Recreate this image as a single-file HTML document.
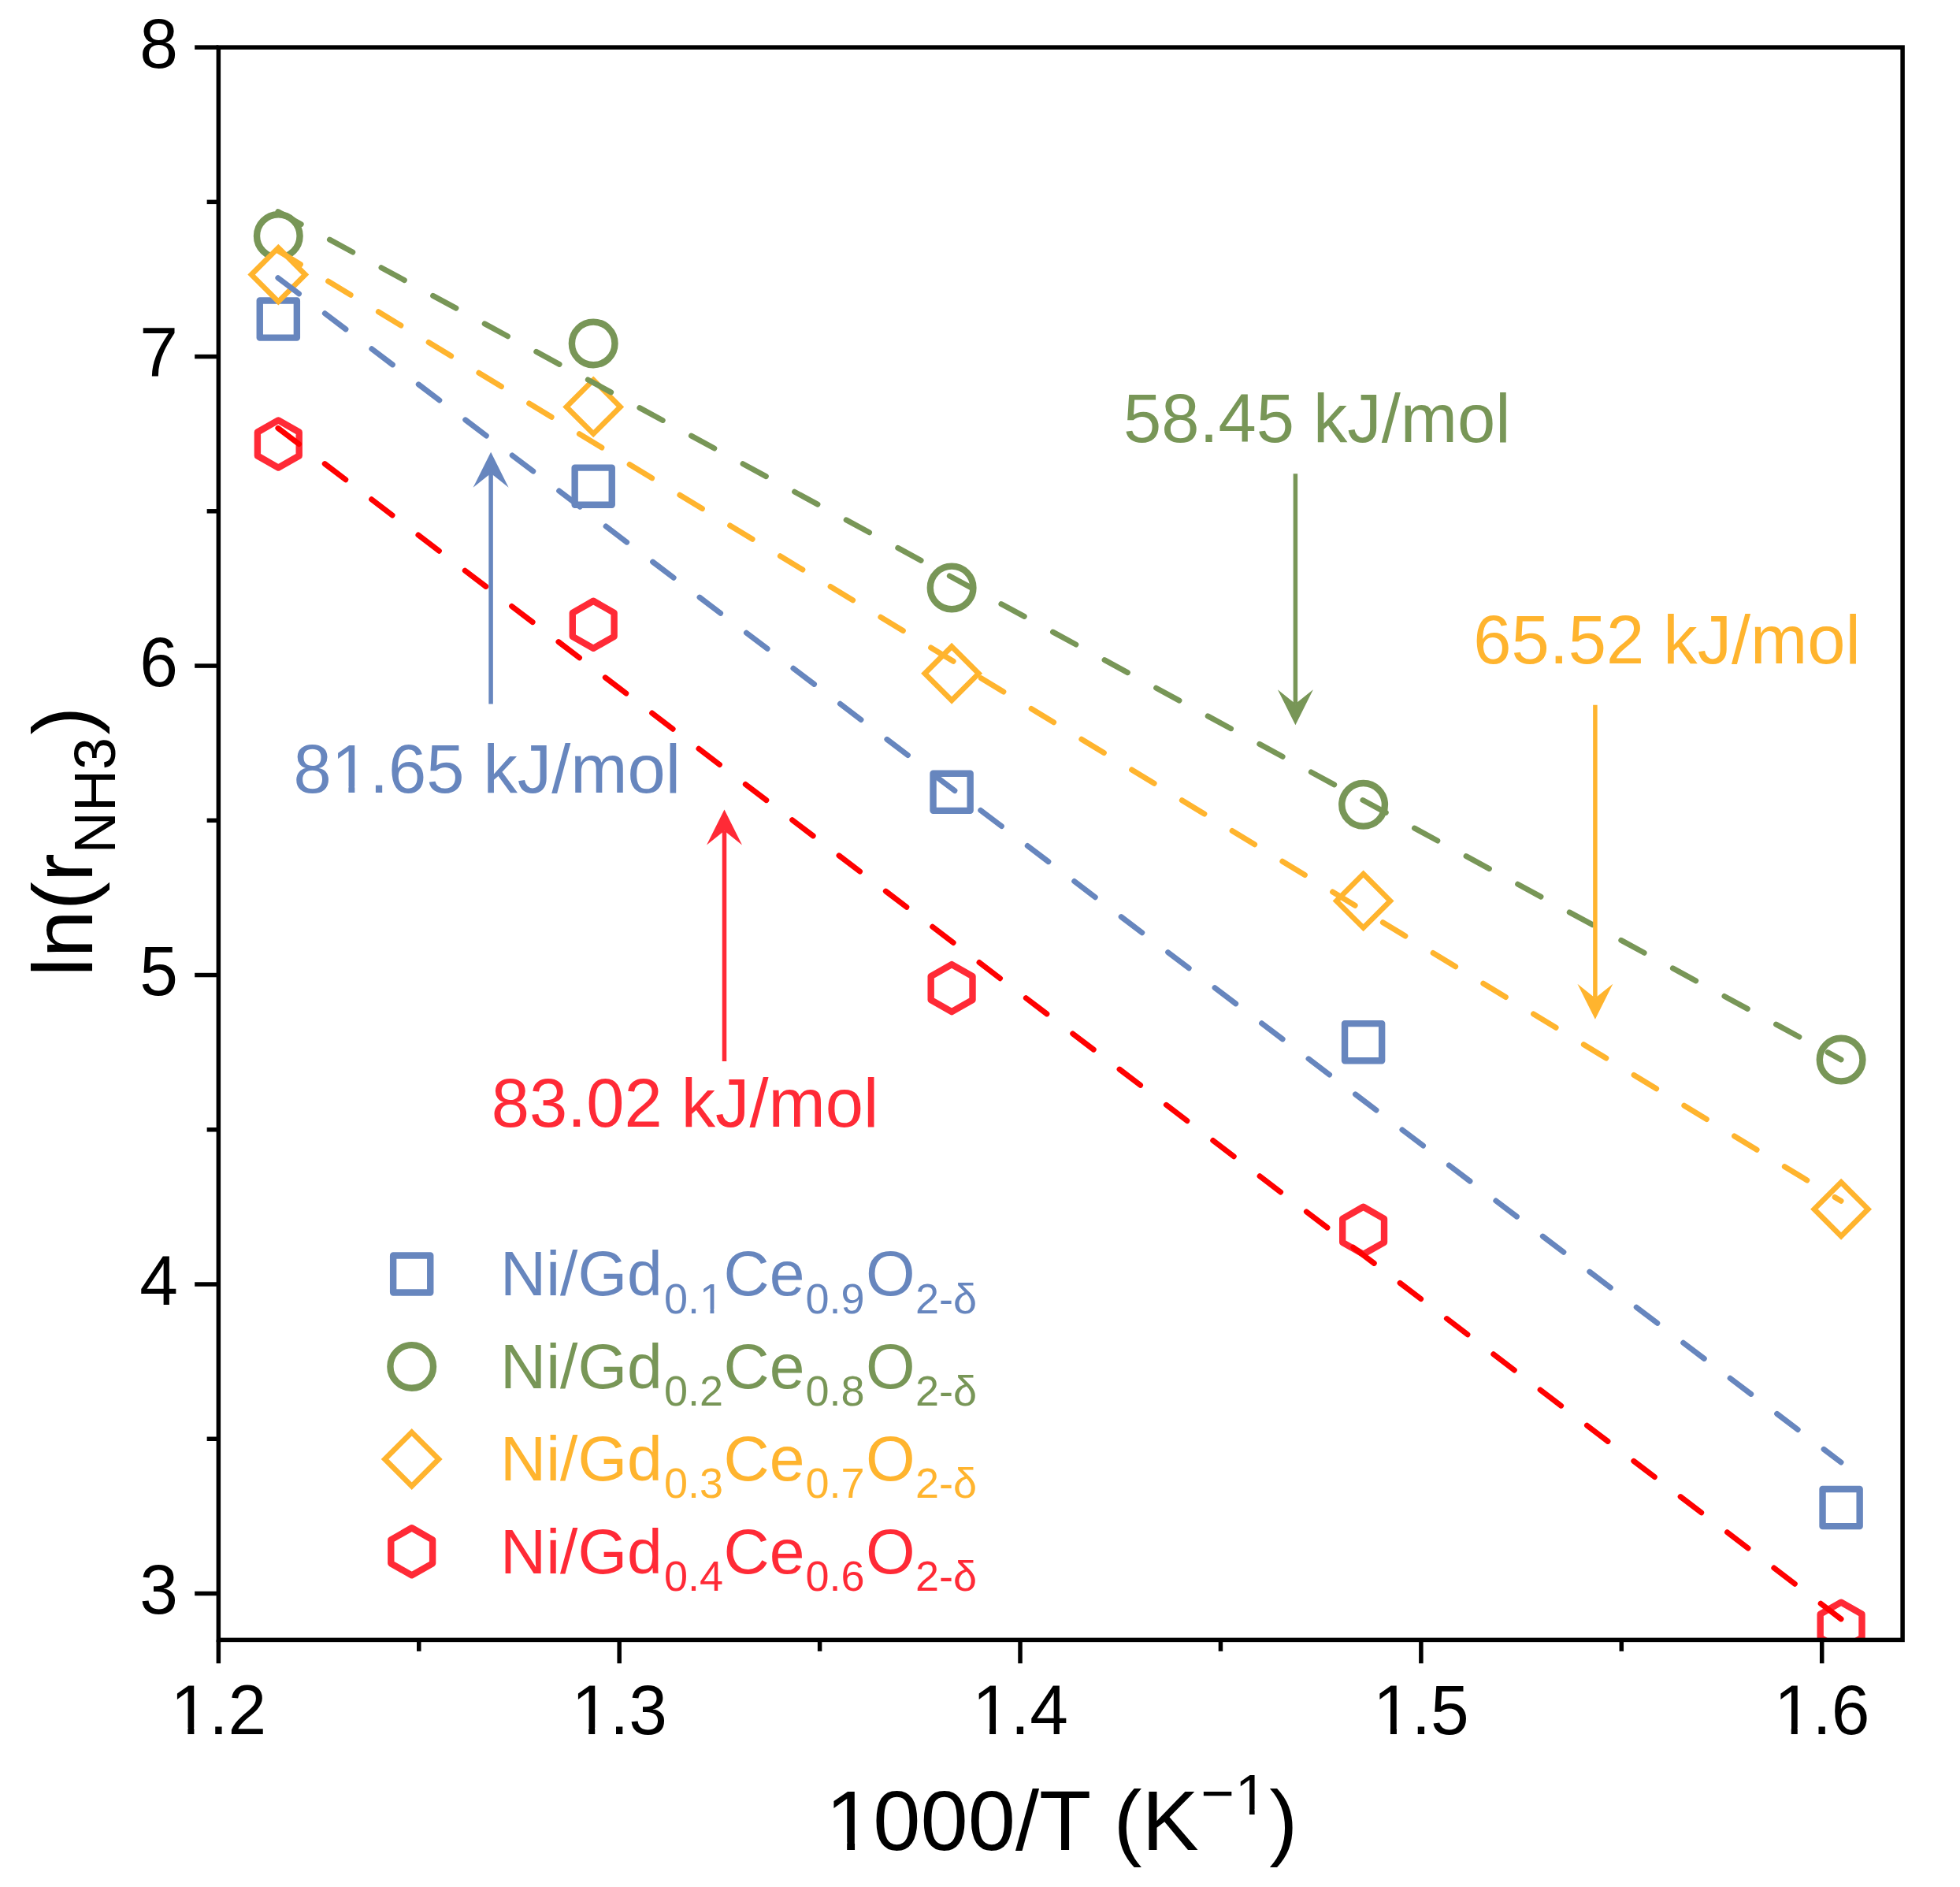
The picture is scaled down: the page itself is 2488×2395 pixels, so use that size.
<!DOCTYPE html>
<html><head><meta charset="utf-8"><title>Arrhenius plot</title>
<style>html,body{margin:0;padding:0;background:#fff}svg{display:block}</style></head>
<body>
<svg width="2488" height="2395" viewBox="0 0 2488 2395" font-family="Liberation Sans, Arial, Helvetica, sans-serif">
<rect width="2488" height="2395" fill="#fff"/>
<defs><clipPath id="plot"><rect x="277.35" y="60.1" width="2137.75" height="2021.3000000000002"/></clipPath></defs>
<g clip-path="url(#plot)">
<rect x="329.75" y="381.55" width="47.1" height="47.1" fill="#fff" stroke="#6786BE" stroke-width="8.4" stroke-linejoin="round"/>
<rect x="729.65" y="593.65" width="47.1" height="47.1" fill="#fff" stroke="#6786BE" stroke-width="8.4" stroke-linejoin="round"/>
<rect x="1184.55" y="981.75" width="47.1" height="47.1" fill="#fff" stroke="#6786BE" stroke-width="8.4" stroke-linejoin="round"/>
<rect x="1707.05" y="1299.15" width="47.1" height="47.1" fill="#fff" stroke="#6786BE" stroke-width="8.4" stroke-linejoin="round"/>
<rect x="2313.55" y="1890.05" width="47.1" height="47.1" fill="#fff" stroke="#6786BE" stroke-width="8.4" stroke-linejoin="round"/>
<circle cx="353.30" cy="299.50" r="27.3" fill="#fff" stroke="#789657" stroke-width="8.4"/>
<circle cx="753.20" cy="435.90" r="27.3" fill="#fff" stroke="#789657" stroke-width="8.4"/>
<circle cx="1208.10" cy="745.90" r="27.3" fill="#fff" stroke="#789657" stroke-width="8.4"/>
<circle cx="1730.60" cy="1021.30" r="27.3" fill="#fff" stroke="#789657" stroke-width="8.4"/>
<circle cx="2337.10" cy="1345.05" r="27.3" fill="#fff" stroke="#789657" stroke-width="8.4"/>
<polygon points="353.30,314.40 387.50,348.60 353.30,382.80 319.10,348.60" fill="#fff" stroke="#FFB42E" stroke-width="6.75" stroke-linejoin="miter"/>
<polygon points="753.20,482.20 787.40,516.40 753.20,550.60 719.00,516.40" fill="#fff" stroke="#FFB42E" stroke-width="6.75" stroke-linejoin="miter"/>
<polygon points="1208.10,820.60 1242.30,854.80 1208.10,889.00 1173.90,854.80" fill="#fff" stroke="#FFB42E" stroke-width="6.75" stroke-linejoin="miter"/>
<polygon points="1730.60,1109.20 1764.80,1143.40 1730.60,1177.60 1696.40,1143.40" fill="#fff" stroke="#FFB42E" stroke-width="6.75" stroke-linejoin="miter"/>
<polygon points="2337.10,1500.50 2371.30,1534.70 2337.10,1568.90 2302.90,1534.70" fill="#fff" stroke="#FFB42E" stroke-width="6.75" stroke-linejoin="miter"/>
<polygon points="353.30,533.46 326.89,548.48 326.89,578.52 353.30,593.54 379.71,578.52 379.71,548.48" fill="#fff" stroke="#FF2A36" stroke-width="8.4" stroke-linejoin="round"/>
<polygon points="753.20,762.76 726.79,777.78 726.79,807.82 753.20,822.84 779.61,807.82 779.61,777.78" fill="#fff" stroke="#FF2A36" stroke-width="8.4" stroke-linejoin="round"/>
<polygon points="1208.10,1224.06 1181.69,1239.08 1181.69,1269.12 1208.10,1284.14 1234.51,1269.12 1234.51,1239.08" fill="#fff" stroke="#FF2A36" stroke-width="8.4" stroke-linejoin="round"/>
<polygon points="1730.60,1531.76 1704.19,1546.78 1704.19,1576.82 1730.60,1591.84 1757.01,1576.82 1757.01,1546.78" fill="#fff" stroke="#FF2A36" stroke-width="8.4" stroke-linejoin="round"/>
<polygon points="2337.10,2033.66 2310.69,2048.68 2310.69,2078.72 2337.10,2093.74 2363.51,2078.72 2363.51,2048.68" fill="#fff" stroke="#FF2A36" stroke-width="8.4" stroke-linejoin="round"/>
<line x1="352.9" y1="352.7" x2="2337" y2="1856.0" stroke="#6786BE" stroke-width="7.0" stroke-linecap="round" stroke-dasharray="33.3 41.3"/>
<line x1="352.9" y1="268.6" x2="2337" y2="1344.8" stroke="#789657" stroke-width="7.0" stroke-linecap="round" stroke-dasharray="33.3 41.3"/>
<line x1="352.9" y1="318.3" x2="2337" y2="1524.2" stroke="#FFB42E" stroke-width="7.0" stroke-linecap="round" stroke-dasharray="33.3 41.3"/>
<line x1="352.9" y1="543.4" x2="2337" y2="2054.9" stroke="#FF0000" stroke-width="7.0" stroke-linecap="round" stroke-dasharray="33.3 41.3"/>
</g>
<g stroke="#000" stroke-width="5.5" fill="none" stroke-linecap="butt">
<rect x="277.35" y="60.1" width="2137.75" height="2021.3000000000002"/>
<line x1="247.15000000000003" y1="60.10" x2="277.35" y2="60.10"/>
<line x1="247.15000000000003" y1="452.58" x2="277.35" y2="452.58"/>
<line x1="247.15000000000003" y1="845.06" x2="277.35" y2="845.06"/>
<line x1="247.15000000000003" y1="1237.54" x2="277.35" y2="1237.54"/>
<line x1="247.15000000000003" y1="1630.02" x2="277.35" y2="1630.02"/>
<line x1="247.15000000000003" y1="2022.50" x2="277.35" y2="2022.50"/>
<line x1="262.65000000000003" y1="256.34" x2="277.35" y2="256.34"/>
<line x1="262.65000000000003" y1="648.82" x2="277.35" y2="648.82"/>
<line x1="262.65000000000003" y1="1041.30" x2="277.35" y2="1041.30"/>
<line x1="262.65000000000003" y1="1433.78" x2="277.35" y2="1433.78"/>
<line x1="262.65000000000003" y1="1826.26" x2="277.35" y2="1826.26"/>
<line x1="277.35" y1="2081.4" x2="277.35" y2="2111.2000000000003"/>
<line x1="786.19" y1="2081.4" x2="786.19" y2="2111.2000000000003"/>
<line x1="1295.03" y1="2081.4" x2="1295.03" y2="2111.2000000000003"/>
<line x1="1803.87" y1="2081.4" x2="1803.87" y2="2111.2000000000003"/>
<line x1="2312.71" y1="2081.4" x2="2312.71" y2="2111.2000000000003"/>
<line x1="531.77" y1="2081.4" x2="531.77" y2="2095.8"/>
<line x1="1040.61" y1="2081.4" x2="1040.61" y2="2095.8"/>
<line x1="1549.45" y1="2081.4" x2="1549.45" y2="2095.8"/>
<line x1="2058.29" y1="2081.4" x2="2058.29" y2="2095.8"/>
</g>
<g font-size="87.5" fill="#000">
<text transform="translate(225.9 85.70) scale(1 1.022)" text-anchor="end">8</text>
<text transform="translate(225.9 478.18) scale(1 1.022)" text-anchor="end">7</text>
<text transform="translate(225.9 870.66) scale(1 1.022)" text-anchor="end">6</text>
<text transform="translate(225.9 1263.14) scale(1 1.022)" text-anchor="end">5</text>
<text transform="translate(225.9 1655.62) scale(1 1.022)" text-anchor="end">4</text>
<text transform="translate(225.9 2048.10) scale(1 1.022)" text-anchor="end">3</text>
<text transform="translate(277.35 2200.7) scale(1 1.022)" text-anchor="middle">1.2</text>
<text transform="translate(786.19 2200.7) scale(1 1.022)" text-anchor="middle">1.3</text>
<text transform="translate(1295.03 2200.7) scale(1 1.022)" text-anchor="middle">1.4</text>
<text transform="translate(1803.87 2200.7) scale(1 1.022)" text-anchor="middle">1.5</text>
<text transform="translate(2312.71 2200.7) scale(1 1.022)" text-anchor="middle">1.6</text>
</g>
<text x="1048.1" y="2347.5" font-size="108.3" fill="#000">1000/T (K<tspan font-size="73" dx="2.5" dy="-47">−</tspan><tspan font-size="73" x="1567.7" dy="2.5">1</tspan><tspan dx="3.0" dy="44.5">)</tspan></text>
<text transform="translate(116.8 1239.6) rotate(-90)" font-size="108.3" fill="#000">ln(r<tspan font-size="73.5" dy="29.3">NH3</tspan><tspan dx="3.3" dy="-29.3">)</tspan></text>
<line x1="623.1" y1="893.6" x2="623.1" y2="600.7" stroke="#6786BE" stroke-width="5.5"/><polygon points="623.1,573.7 645.6,618.7 623.1,600.7 600.6,618.7" fill="#6786BE"/>
<line x1="1644.4" y1="601.2" x2="1644.4" y2="893.2" stroke="#789657" stroke-width="5.5"/><polygon points="1644.4,920.2 1666.9,875.2 1644.4,893.2 1621.9,875.2" fill="#789657"/>
<line x1="2024.9" y1="894.8" x2="2024.9" y2="1266.8" stroke="#FFB42E" stroke-width="5.5"/><polygon points="2024.9,1293.8 2047.4,1248.8 2024.9,1266.8 2002.4,1248.8" fill="#FFB42E"/>
<line x1="919.5" y1="1347.1" x2="919.5" y2="1054.4" stroke="#FF2A36" stroke-width="5.5"/><polygon points="919.5,1027.4 942.0,1072.4 919.5,1054.4 897.0,1072.4" fill="#FF2A36"/>
<g font-size="86.7">
<text x="372.5" y="1006.1" fill="#6786BE">81.65 kJ/mol</text>
<text x="1426" y="561" fill="#789657">58.45 kJ/mol</text>
<text x="1870.3" y="842.4" fill="#FFB42E">65.52 kJ/mol</text>
<text x="623.7" y="1429.9" fill="#FF2A36">83.02 kJ/mol</text>
</g>
<rect x="499.15" y="1593.45" width="47.1" height="47.1" fill="#fff" stroke="#6786BE" stroke-width="8.4" stroke-linejoin="round"/>
<text font-size="80.5" fill="#6786BE" y="1644.40"><tspan x="635">Ni/Gd</tspan><tspan x="842.9" y="1666.50" font-size="54">0.1</tspan><tspan x="918.6" y="1644.40">Ce</tspan><tspan x="1022.5" y="1666.50" font-size="54">0.9</tspan><tspan x="1099" y="1644.40">O</tspan><tspan x="1161.9" y="1666.50" font-size="54">2-δ</tspan></text>
<circle cx="522.70" cy="1734.40" r="27.3" fill="#fff" stroke="#789657" stroke-width="8.4"/>
<text font-size="80.5" fill="#789657" y="1761.87"><tspan x="635">Ni/Gd</tspan><tspan x="842.9" y="1783.97" font-size="54">0.2</tspan><tspan x="918.6" y="1761.87">Ce</tspan><tspan x="1022.5" y="1783.97" font-size="54">0.8</tspan><tspan x="1099" y="1761.87">O</tspan><tspan x="1161.9" y="1783.97" font-size="54">2-δ</tspan></text>
<polygon points="522.70,1817.80 556.90,1852.00 522.70,1886.20 488.50,1852.00" fill="#fff" stroke="#FFB42E" stroke-width="6.75" stroke-linejoin="miter"/>
<text font-size="80.5" fill="#FFB42E" y="1879.34"><tspan x="635">Ni/Gd</tspan><tspan x="842.9" y="1901.44" font-size="54">0.3</tspan><tspan x="918.6" y="1879.34">Ce</tspan><tspan x="1022.5" y="1901.44" font-size="54">0.7</tspan><tspan x="1099" y="1879.34">O</tspan><tspan x="1161.9" y="1901.44" font-size="54">2-δ</tspan></text>
<polygon points="522.70,1939.26 496.29,1954.28 496.29,1984.32 522.70,1999.34 549.11,1984.32 549.11,1954.28" fill="#fff" stroke="#FF2A36" stroke-width="8.4" stroke-linejoin="round"/>
<text font-size="80.5" fill="#FF2A36" y="1996.81"><tspan x="635">Ni/Gd</tspan><tspan x="842.9" y="2018.91" font-size="54">0.4</tspan><tspan x="918.6" y="1996.81">Ce</tspan><tspan x="1022.5" y="2018.91" font-size="54">0.6</tspan><tspan x="1099" y="1996.81">O</tspan><tspan x="1161.9" y="2018.91" font-size="54">2-δ</tspan></text>
<rect x="218.24" y="2192.80" width="20.17" height="8.70" fill="#fff"/><rect x="246.40" y="2192.80" width="18.20" height="8.70" fill="#fff"/>
<rect x="727.08" y="2192.80" width="20.17" height="8.70" fill="#fff"/><rect x="755.24" y="2192.80" width="18.20" height="8.70" fill="#fff"/>
<rect x="1235.92" y="2192.80" width="20.17" height="8.70" fill="#fff"/><rect x="1264.08" y="2192.80" width="18.20" height="8.70" fill="#fff"/>
<rect x="1744.76" y="2192.80" width="20.17" height="8.70" fill="#fff"/><rect x="1772.92" y="2192.80" width="18.20" height="8.70" fill="#fff"/>
<rect x="2253.60" y="2192.80" width="20.17" height="8.70" fill="#fff"/><rect x="2281.76" y="2192.80" width="18.20" height="8.70" fill="#fff"/>
<rect x="1050.22" y="2337.72" width="24.96" height="10.58" fill="#fff"/><rect x="1085.06" y="2337.72" width="22.53" height="10.58" fill="#fff"/>
<rect x="1569.13" y="2296.41" width="16.82" height="7.39" fill="#fff"/><rect x="1592.62" y="2296.41" width="15.18" height="7.39" fill="#fff"/>
<rect x="422.41" y="998.27" width="19.98" height="8.63" fill="#fff"/><rect x="450.31" y="998.27" width="18.03" height="8.63" fill="#fff"/>
<rect x="888.99" y="1661.62" width="12.45" height="5.68" fill="#fff"/><rect x="906.37" y="1661.62" width="11.23" height="5.68" fill="#fff"/>
</svg>
</body></html>
